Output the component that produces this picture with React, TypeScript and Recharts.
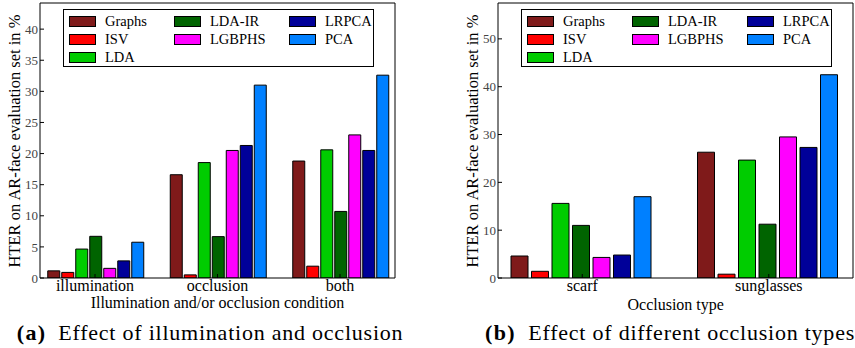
import React from 'react';
import { BarChart, Bar, XAxis, YAxis } from 'recharts';

const FONT = "'Liberation Serif', 'DejaVu Serif', serif";

const methods = ['Graphs', 'ISV', 'LDA', 'LDA-IR', 'LGBPHS', 'LRPCA', 'PCA'];
const methodColors = ['#7f1a1a', '#ff0000', '#00cc00', '#006400', '#ff00ff', '#000099', '#0080ff'];

// (a) HTER per illumination / occlusion condition
const conditions = ['illumination', 'occlusion', 'both'];
const condGraphs = [1.15, 16.6, 18.8];
const condISV = [0.9, 0.5, 1.9];
const condLDA = [4.65, 18.55, 20.6];
const condLDAIR = [6.7, 6.65, 10.7];
const condLGBPHS = [1.55, 20.5, 23.0];
const condLRPCA = [2.75, 21.3, 20.5];
const condPCA = [5.75, 31.0, 32.6];
const condTicks = [0, 5, 10, 15, 20, 25, 30, 35, 40];

// (b) HTER per occlusion type
const occlusionTypes = ['scarf', 'sunglasses'];
const occGraphs = [4.6, 26.3];
const occISV = [1.4, 0.8];
const occLDA = [15.6, 24.65];
const occLDAIR = [11.0, 11.25];
const occLGBPHS = [4.3, 29.5];
const occLRPCA = [4.8, 27.3];
const occPCA = [17.0, 42.5];
const occTicks = [0, 10, 20, 30, 40, 50];

const buildRows = (cats: string[], series: number[][]) =>
  cats.map((name, i) => {
    const row: Record<string, string | number> = { name };
    methods.forEach((m, k) => {
      row[m] = series[k][i];
    });
    return row;
  });

const condData = buildRows(conditions, [condGraphs, condISV, condLDA, condLDAIR, condLGBPHS, condLRPCA, condPCA]);
const occData = buildRows(occlusionTypes, [occGraphs, occISV, occLDA, occLDAIR, occLGBPHS, occLRPCA, occPCA]);

interface PanelProps {
  data: Record<string, string | number>[];
  ticks: number[];
  yMax: number;
  left: number;
  width: number;
  yAxisWidth: number;
  marginRight: number;
  pad: number;
  catGap: number;
  barGap: number;
}

const Panel: React.FC<PanelProps> = ({ data, ticks, yMax, left, width, yAxisWidth, marginRight, pad, catGap, barGap }) => (
  <div style={{ position: 'absolute', left, top: 0 }}>
    <BarChart
      width={width}
      height={298}
      data={data}
      margin={{ top: 2, right: marginRight, bottom: 0, left: 0 }}
      barCategoryGap={catGap}
      barGap={barGap}
    >
      <XAxis
        dataKey="name"
        interval={0}
        height={20}
        padding={{ left: -pad, right: -pad }}
        tickSize={-4}
        tickMargin={6}
        axisLine={{ stroke: '#000' }}
        tickLine={{ stroke: '#000' }}
        tick={{ fontSize: 16, fill: '#000', fontFamily: FONT }}
      />
      <XAxis
        xAxisId="top"
        orientation="top"
        dataKey="name"
        interval={0}
        height={1}
        padding={{ left: -pad, right: -pad }}
        tickSize={-4}
        axisLine={{ stroke: '#000' }}
        tickLine={{ stroke: '#000' }}
        tick={false}
      />
      <YAxis
        width={yAxisWidth}
        domain={[0, yMax]}
        ticks={ticks}
        allowDataOverflow
        tickSize={-4}
        tickMargin={6}
        axisLine={{ stroke: '#000' }}
        tickLine={{ stroke: '#000' }}
        tick={{ fontSize: 13, fill: '#444', fontFamily: FONT }}
      />
      <YAxis
        yAxisId="r"
        orientation="right"
        width={1}
        domain={[0, yMax]}
        ticks={ticks}
        allowDataOverflow
        tickSize={-4}
        axisLine={{ stroke: '#000' }}
        tickLine={{ stroke: '#000' }}
        tick={false}
      />
      {methods.map((m, k) => (
        <Bar key={m} dataKey={m} fill={methodColors[k]} stroke="#000" strokeWidth={1} isAnimationActive={false} />
      ))}
    </BarChart>
  </div>
);

// matplotlib style legend: 3 columns, filled column by column
const LegendBox: React.FC<{ left: number }> = ({ left }) => {
  const colX = [5, 110, 225];
  const rowY = [10.7, 29.4, 47.4];
  const perCol = [3, 2, 2];
  const items: { m: string; c: string; x: number; y: number }[] = [];
  let idx = 0;
  perCol.forEach((n, col) => {
    for (let r = 0; r < n; r++) {
      items.push({ m: methods[idx], c: methodColors[idx], x: colX[col], y: rowY[r] });
      idx++;
    }
  });
  return (
    <div
      style={{
        position: 'absolute',
        left,
        top: 9,
        width: 309,
        height: 56,
        border: '1px solid #000',
        background: '#fff',
      }}
    >
      {items.map((it) => (
        <React.Fragment key={it.m}>
          <div
            style={{
              position: 'absolute',
              left: it.x,
              top: it.y - 5,
              width: 25,
              height: 9,
              background: it.c,
              border: '1px solid #000',
            }}
          />
          <div
            style={{
              position: 'absolute',
              left: it.x + 36,
              top: it.y - 8,
              fontSize: 14.5,
              lineHeight: '16px',
              fontFamily: FONT,
              whiteSpace: 'nowrap',
            }}
          >
            {it.m}
          </div>
        </React.Fragment>
      ))}
    </div>
  );
};

const text = (left: number, top: number, size: number, content: React.ReactNode, extra: React.CSSProperties = {}) => (
  <div
    style={{
      position: 'absolute',
      left,
      top,
      fontSize: size,
      lineHeight: 1,
      fontFamily: FONT,
      whiteSpace: 'nowrap',
      color: '#000',
      ...extra,
    }}
  >
    {content}
  </div>
);

const yLabel = (cx: number) => (
  <div
    style={{
      position: 'absolute',
      left: cx,
      top: 141,
      transform: 'translate(-50%, -50%) rotate(-90deg)',
      fontSize: 16.5,
      lineHeight: 1,
      fontFamily: FONT,
      whiteSpace: 'nowrap',
    }}
  >
    HTER on AR-face evaluation set in %
  </div>
);

const App: React.FC = () => (
  <div style={{ position: 'absolute', left: 0, top: 0, width: 855, height: 348, background: '#fff', overflow: 'hidden' }}>
    <Panel data={condData} ticks={condTicks} yMax={44.2} left={0} width={430} yAxisWidth={40} marginRight={34} pad={6.25} catGap={14} barGap={2} />
    <Panel data={occData} ticks={occTicks} yMax={57.5} left={430} width={425} yAxisWidth={68} marginRight={1} pad={9} catGap={22} barGap={3.5} />
    <LegendBox left={63} />
    <LegendBox left={521} />
    {yLabel(15)}
    {yLabel(472.5)}
    {text(217.5, 294.5, 16, 'Illumination and/or occlusion condition', { transform: 'translateX(-50%)' })}
    {text(675.7, 297, 16, 'Occlusion type', { transform: 'translateX(-50%)' })}
    {text(16.7, 322.2, 22, '(a)', { fontWeight: 'bold', letterSpacing: 1.4 })}
    {text(58.3, 322.2, 22, 'Effect of illumination and occlusion', { letterSpacing: 0.77 })}
    {text(485, 322.2, 22, '(b)', { fontWeight: 'bold', letterSpacing: 1.4 })}
    {text(528.3, 322.2, 22, 'Effect of different occlusion types', { letterSpacing: 0.77 })}
  </div>
);

export default App;
